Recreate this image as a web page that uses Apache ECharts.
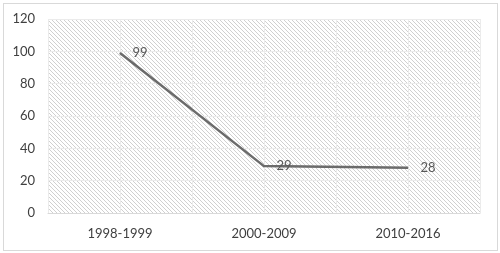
<!DOCTYPE html>
<html>
<head>
<meta charset="utf-8">
<script src="https://cdn.jsdelivr.net/npm/echarts@6/dist/echarts.min.js"></script>
<style>
  html, body { margin: 0; padding: 0; background: #fff; }
  #frame { position: absolute; left: 3px; top: 3px; width: 493px; height: 246px; border: 1px solid #d9d9d9; }
  #chart { position: absolute; left: 0; top: 0; width: 500px; height: 253px; }
</style>
</head>
<body>
<div id="frame"></div>
<div id="chart"></div>
<script>
const categories = ['1998-1999', '2000-2009', '2010-2016']
const values = [99, 29, 28]
const halfSlots = ['a', 'b', 'c', 'd', 'e', 'f']

// diagonal hatch for the plot background
function hatch() {
  const c = document.createElement('canvas')
  c.width = 4
  c.height = 4
  const ctx = c.getContext('2d')
  ctx.fillStyle = '#ffffff'
  ctx.fillRect(0, 0, 4, 4)
  ctx.strokeStyle = '#d0d0d0'
  ctx.lineWidth = 1
  ctx.beginPath()
  ctx.moveTo(-1, -1); ctx.lineTo(5, 5)
  ctx.moveTo(-1, 3); ctx.lineTo(1, 5)
  ctx.moveTo(3, -1); ctx.lineTo(5, 1)
  ctx.stroke()
  return c
}

const chart = echarts.init(document.getElementById('chart'))
const font = 'Lato, "Open Sans", sans-serif'
chart.setOption({
  animation: false,
  grid: {
    left: 48, right: 20, top: 19, bottom: 40,
    show: true,
    borderWidth: 0,
    backgroundColor: { image: hatch(), repeat: 'repeat' }
  },
  xAxis: [{
    type: 'category',
    data: categories,
    boundaryGap: true,
    axisLine: { show: true, lineStyle: { color: '#d9d9d9' } },
    axisTick: { show: false },
    axisLabel: { color: '#404040', fontSize: 13, fontFamily: font, margin: 14 },
    splitLine: { show: false }
  }, {
    type: 'category',
    data: halfSlots,
    boundaryGap: true,
    position: 'bottom',
    axisLine: { show: false },
    axisTick: { show: false },
    axisLabel: { show: false },
    splitLine: { show: true, lineStyle: { color: '#ebebeb', width: 1 } }
  }],
  yAxis: {
    type: 'value',
    min: 0, max: 120, interval: 20,
    axisLine: { show: false },
    axisTick: { show: false },
    axisLabel: { color: '#404040', fontSize: 13, fontFamily: font, margin: 13 },
    splitLine: { show: true, lineStyle: { color: '#ebebeb', width: 1 } }
  },
  series: [{
    type: 'line',
    data: values,
    xAxisIndex: 0,
    symbol: 'circle',
    symbolSize: 1,
    showSymbol: true,
    itemStyle: { color: '#6b6b6b' },
    lineStyle: { color: '#6b6b6b', width: 2.5 },
    label: {
      show: true,
      position: 'right',
      distance: 12,
      color: '#595959',
      fontSize: 13,
      fontFamily: font
    }
  }]
})
</script>
</body>
</html>
